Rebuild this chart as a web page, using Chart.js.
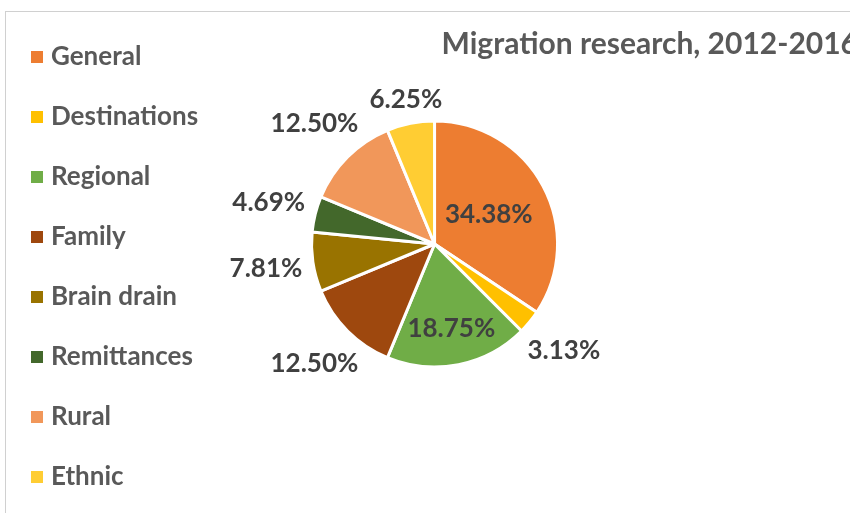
<!DOCTYPE html>
<html>
<head>
<meta charset="utf-8">
<script src="https://cdn.jsdelivr.net/npm/chart.js@4.4.0/dist/chart.umd.min.js"></script>
<style>
html,body{margin:0;padding:0;width:850px;height:513px;overflow:hidden;background:#fff}
#frame{position:absolute;left:5px;top:11px;width:1000px;height:1000px;border-left:1px solid #d0d0d0;border-top:1px solid #d0d0d0}
#wrap{position:absolute;left:0;top:0;width:850px;height:513px}
</style>
</head>
<body>
<div id="frame"></div>
<div id="wrap"><canvas id="chart"></canvas></div>
<script>
// ---- data ----
const categories = ['General', 'Destinations', 'Regional', 'Family', 'Brain drain', 'Remittances', 'Rural', 'Ethnic'];
const shares = [34.38, 3.13, 18.75, 12.50, 7.81, 4.69, 12.50, 6.25];
const sliceColors = ['#ED7D31', '#FFC000', '#70AD47', '#9E480E', '#997300', '#43682B', '#F1975A', '#FFCD33'];
const chartTitle = 'Migration research, 2012-2016';

const FONT = 'Lato';

// data labels drawn from the arc elements the library computed
const pieLabels = {
  id: 'pieLabels',
  afterDatasetsDraw(chart, args, opts) {
    const ctx = chart.ctx;
    const meta = chart.getDatasetMeta(0);
    ctx.save();
    ctx.font = 'bold ' + opts.size + 'px ' + FONT;
    ctx.fillStyle = opts.color;
    ctx.textAlign = 'center';
    ctx.textBaseline = 'middle';
    meta.data.forEach((arc, i) => {
      const p = arc.getProps(['x', 'y', 'startAngle', 'endAngle', 'outerRadius'], true);
      const mid = (p.startAngle + p.endAngle) / 2;
      const ux = Math.cos(mid), uy = Math.sin(mid);
      const text = shares[i].toFixed(2) + '%';
      const w = ctx.measureText(text).width;
      const h = opts.size * 0.85;
      let d;
      const depth = opts.inside[i];
      if (depth) {
        d = p.outerRadius * depth;
      } else {
        const target = p.outerRadius + opts.gap;
        let lo = 0, hi = p.outerRadius * 4;
        for (let k = 0; k < 50; k++) {
          const m = (lo + hi) / 2;
          const cx = ux * m, cy = uy * m;
          const nx = Math.min(Math.max(0, cx - w / 2), cx + w / 2);
          const ny = Math.min(Math.max(0, cy - h / 2), cy + h / 2);
          if (Math.hypot(nx, ny) < target) lo = m; else hi = m;
        }
        d = (lo + hi) / 2;
      }
      ctx.fillText(text, p.x + ux * d, p.y + uy * d);
    });
    ctx.restore();
  }
};

new Chart(document.getElementById('chart'), {
  type: 'pie',
  data: {
    labels: categories,
    datasets: [{
      data: shares,
      backgroundColor: sliceColors,
      borderColor: '#ffffff',
      borderWidth: 3,
      radius: 123
    }]
  },
  plugins: [pieLabels],
  options: {
    responsive: true,
    maintainAspectRatio: false,
    animation: false,
    events: [],
    layout: { padding: { top: 10, left: 2, right: -8, bottom: -15 } },
    scales: {
      spacerRight: {
        type: 'linear', position: 'right', axis: 'y',
        grid: { display: false }, border: { display: false }, ticks: { display: false },
        afterFit(scale) { scale.width = 197; }
      },
      spacerBottom: {
        type: 'linear', position: 'bottom', axis: 'x',
        grid: { display: false }, border: { display: false }, ticks: { display: false },
        afterFit(scale) { scale.height = 102; }
      }
    },
    plugins: {
      tooltip: { enabled: false },
      title: {
        display: true,
        text: chartTitle,
        align: 'end',
        color: '#595959',
        font: { family: FONT, size: 30, weight: 'bold' },
        padding: { top: 16, bottom: 0 }
      },
      legend: {
        position: 'left',
        align: 'start',
        labels: {
          usePointStyle: true,
          pointStyle: 'rect',
          boxWidth: 2,
          boxHeight: 12,
          padding: 34,
          color: '#595959',
          font: { family: FONT, size: 26, weight: 'bold' },
          generateLabels(chart) {
            const base = Chart.overrides.pie.plugins.legend.labels.generateLabels(chart);
            return base.map(item => Object.assign(item, { lineWidth: 0, pointStyle: 'rect' }));
          }
        }
      },
      pieLabels: {
        size: 26,
        color: '#404040',
        gap: 10,
        inside: [0.5, 0, 0.7, 0, 0, 0, 0, 0]
      }
    }
  }
});
</script>
</body>
</html>
